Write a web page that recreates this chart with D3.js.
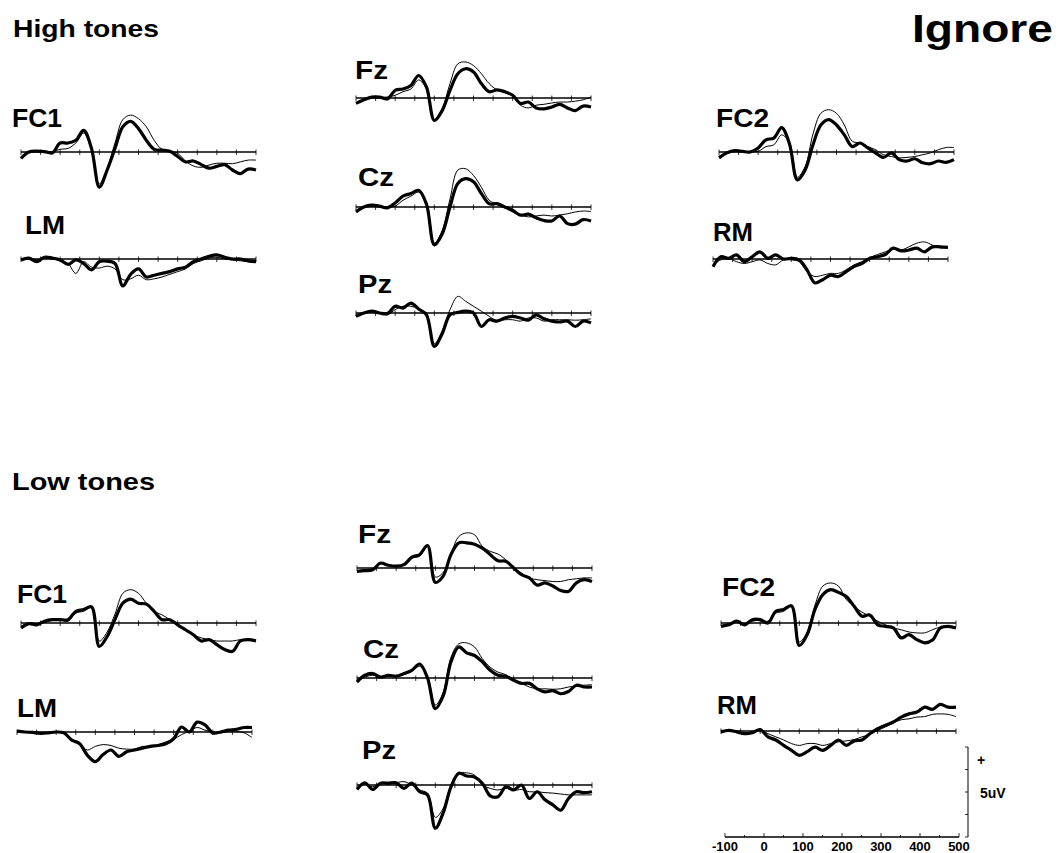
<!DOCTYPE html>
<meta charset="utf-8">
<style>
body { margin: 0; background: #fff; }
text { font-family: "Liberation Sans", Arial, sans-serif; font-weight: bold; fill: #000; }
</style>
<body>
<svg width="1058" height="853"></svg>
<script src="https://d3js.org/d3.v7.min.js"></script>
<script>
// sample times (ms) and tick marks
var times = d3.range(-100, 501, 20);
var tickTimes = d3.range(-100, 501, 50);
var scaleLabels = [-100, 0, 100, 200, 300, 400, 500];

// ERP amplitudes in uV, one value every 20 ms from -100 to 500
// high tones
var highFC1Thick = [-0.7,0,0.1,0.05,-0.1,1.0,1.0,1.3,2.4,0.4,-3.9,-2.0,0.4,2.8,3.4,2.6,1.3,0.3,0.2,0.07,-0.5,-1.1,-1.0,-1.4,-1.8,-1.6,-1.4,-2.0,-2.4,-1.9,-2.0];
var highFC1Thin  = [-0.7,0,0.1,0.05,0.05,0.3,0.4,1.0,2.1,0.3,-3.55,-1.8,1.0,3.6,4.1,3.7,2.8,1.3,0.3,0.15,-0.15,-1.0,-1.55,-1.7,-1.45,-1.25,-1.25,-1.3,-1.1,-0.9,-0.9];
var highLMThick  = [-0.1,0.1,-0.3,0.2,0.1,-0.1,-0.6,-0.1,-0.5,-1.2,-0.3,-0.25,-0.5,-3.0,-1.7,-1.1,-2.0,-1.8,-1.6,-1.4,-1.1,-0.9,-0.3,0.0,0.3,0.45,0.2,0.0,0.0,-0.2,-0.3];
var highLMThin   = [0,0.05,-0.1,0.1,0,-0.2,-0.5,-1.6,-0.3,-0.9,-1.0,-0.8,-1.1,-2.3,-2.2,-1.8,-2.3,-2.2,-2.0,-1.7,-1.4,-1.1,-0.5,-0.2,0.1,0.2,0.0,-0.1,-0.2,-0.3,-0.4];
var highFzThick  = [-0.6,-0.2,0.1,0.1,-0.1,0.85,1.0,1.4,2.5,1.2,-2.5,-1.4,0.85,2.7,3.25,2.9,1.6,0.7,0.9,0.7,0.3,-0.6,-0.45,-1.1,-1.2,-1.0,-0.7,-1.1,-1.4,-0.9,-1.0];
var highFzThin   = [-0.55,-0.1,0.1,0.1,0.1,0.3,0.7,1.0,2.0,1.0,-2.4,-1.2,1.6,3.8,4.0,3.6,2.7,1.6,0.9,0.7,0.2,-0.8,-1.1,-0.8,-0.7,-0.55,-0.45,-0.45,-0.35,-0.2,0.1];
var highCzThick  = [-0.55,0,0.2,0.1,-0.1,0.45,1.2,1.5,1.85,0.3,-4.2,-3.0,0,2.6,3.15,2.8,1.5,0.37,0.37,0,-0.37,-0.9,-0.8,-1.2,-1.5,-1.55,-1.0,-1.85,-1.9,-1.4,-1.55];
var highCzThin   = [-0.37,0,0.2,0.1,0,0.1,0.75,1.2,1.65,0.5,-4.0,-2.6,0.9,4.1,4.25,3.5,2.2,0.75,0.3,-0.1,-0.55,-0.9,-1.1,-1.0,-0.9,-1.0,-0.9,-0.75,-0.55,-0.45,-0.5];
var highPzThick  = [-0.37,0,0.2,0,-0.07,0.75,0.55,1.1,0.45,-0.2,-3.7,-2.3,-0.2,0.07,0.2,0,-1.5,-0.75,-0.9,-0.55,-0.37,-0.55,-0.8,-0.2,-0.65,-0.9,-1.0,-0.9,-1.5,-0.9,-1.1];
var highPzThin   = [-0.2,0,0.1,0.07,-0.2,0.37,0.75,0.75,0.45,-0.2,-3.4,-2.0,0.37,1.85,1.3,0.75,0.2,-0.37,-0.9,-0.75,-0.75,-0.9,-0.55,-0.55,-0.9,-0.75,-0.75,-0.75,-0.8,-0.75,-0.65];
var highFC2Thick = [-0.65,-0.1,0.15,0.07,0,0.45,1.35,1.55,2.7,0.9,-3.1,-2.0,0.8,3.0,3.6,3.0,1.9,0.6,1.0,0.45,-0.1,-0.6,-0.1,-0.85,-1.0,-0.75,-1.2,-1.3,-1.0,-1.15,-0.85];
var highFC2Thin  = [-0.5,0,0.15,0,0.07,0.07,0.6,0.8,1.9,1.0,-2.8,-1.6,2.0,4.3,4.7,4.3,3.0,1.2,1.0,0.6,0.25,-0.3,-0.5,-0.65,-0.6,-0.5,-0.3,-0.1,0.25,0.5,0.5];
var highRMThick  = [-0.85,0.25,0.07,0.45,-0.3,0.25,0.8,0.07,0.45,0,0.07,-0.1,-1.2,-2.65,-2.3,-1.8,-1.95,-1.4,-0.85,-0.5,0.07,0.25,0.5,1.2,0.9,1.0,1.2,0.8,1.35,1.35,1.3];
var highRMThin   = [-0.65,-0.1,0.07,-0.3,-0.5,-0.3,-0.1,-0.5,-0.65,-0.1,-0.1,-0.3,-1.4,-1.95,-1.8,-1.6,-1.6,-1.2,-0.65,-0.3,0.15,0.5,0.8,1.1,1.0,1.35,1.75,1.9,1.55,1.25,1.3];
// low tones
var lowFC1Thick  = [-0.55,-0.07,-0.2,0.2,0.37,0.37,0.37,1.3,1.5,1.8,-2.6,-1.5,0.4,2.2,2.65,2.2,2.1,1.3,0.37,0.37,-0.2,-0.75,-1.3,-2.0,-1.85,-2.4,-2.95,-3.15,-2.0,-1.85,-2.0];
var lowFC1Thin   = [-0.37,0,-0.07,0.07,0.3,0.37,0.2,1.1,1.3,1.7,-2.0,-1.0,1.0,3.3,3.7,3.3,2.2,1.3,0.9,0.37,-0.2,-0.8,-1.3,-1.65,-1.85,-2.0,-2.0,-2.0,-1.85,-1.85,-1.9];
var lowLMThick   = [0.1,0,-0.05,-0.15,-0.1,0,-0.1,-0.9,-1.3,-2.6,-3.3,-2.5,-2.0,-2.7,-2.2,-2.0,-1.8,-1.6,-1.5,-1.3,-0.75,0.55,0.0,1.1,0.8,-0.1,0.0,0.2,0.3,0.5,0.5];
var lowLMThin    = [0.05,0,-0.05,-0.1,-0.05,0,-0.2,-0.8,-1.4,-2.0,-1.6,-1.4,-1.5,-1.8,-1.9,-1.9,-1.6,-1.6,-1.4,-1.1,-0.8,-0.3,0.1,0.5,0.2,0.0,-0.1,0.1,0.1,-0.1,-0.6];
var lowFzThick   = [-0.37,-0.3,-0.2,0.55,0.3,0.2,0.37,1.2,1.5,2.5,-1.6,-0.9,1.5,2.8,2.8,2.65,2.2,1.5,0.8,0.75,0,-0.75,-1.1,-1.9,-1.65,-2.0,-2.5,-2.6,-1.65,-1.3,-1.5];
var lowFzThin    = [-0.3,-0.2,-0.07,0.45,0.37,0.2,0.37,1.1,1.3,2.4,-1.0,-0.5,1.6,3.5,3.9,3.7,2.4,1.85,1.55,0.9,0,-0.55,-1.1,-1.3,-1.4,-1.5,-1.5,-1.3,-1.2,-1.1,-1.1];
var lowCzThick   = [-0.45,0.3,0.5,0.1,0.3,0.2,0.5,0.85,1.55,0.0,-3.4,-2.0,1.8,3.45,2.8,2.5,1.8,0.85,0.3,0.2,-0.25,-0.6,-0.6,-1.2,-1.55,-1.4,-1.75,-1.5,-0.8,-1.0,-1.0];
var lowCzThin    = [-0.25,0.1,0.3,0.1,0.2,0.2,0.37,0.75,1.3,0.2,-3.0,-1.6,2.3,3.8,3.9,3.45,2.15,1.2,0.65,0.37,-0.25,-0.6,-1.0,-1.2,-1.2,-1.25,-1.2,-1.0,-0.9,-0.8,-0.75];
var lowPzThick   = [-0.5,0.25,-0.5,0.2,0.2,0.25,-0.37,0.2,-0.75,-1.1,-4.8,-3.1,-0.2,1.3,1.0,0.9,0.2,-1.2,-1.3,-0.2,-0.55,0,-1.5,-0.75,-1.65,-2.2,-2.8,-1.5,-0.75,-0.85,-0.75];
var lowPzThin    = [-0.37,0.1,-0.2,0.2,0.1,0.25,0.37,0,-0.55,-0.9,-3.6,-2.6,0.0,1.3,1.35,1.1,0.0,-0.37,-0.55,-0.37,-0.6,-0.5,-0.75,-0.75,-0.85,-0.9,-1.0,-1.1,-1.1,-1.1,-1.1];
var lowFC2Thick  = [-0.37,-0.2,0.2,-0.2,0.37,0.37,0,1.3,1.5,1.9,-2.5,-1.3,1.5,3.15,3.7,3.4,2.95,1.85,0.75,0.9,-0.2,-0.37,-0.55,-1.65,-1.3,-1.85,-2.2,-1.9,-0.55,-0.37,-0.55];
var lowFC2Thin   = [-0.3,-0.07,0.07,-0.07,0.2,0.3,0.2,1.1,1.3,2.0,-2.1,-1.0,2.0,4.1,4.45,4.1,2.6,1.85,1.2,0.75,0.2,-0.2,-0.55,-0.75,-1.0,-1.1,-1.1,-0.75,-0.45,-0.37,-0.45];
var lowRMThick   = [-0.1,0.07,-0.1,-0.3,-0.2,0.15,-0.65,-1.0,-1.6,-2.15,-2.7,-2.3,-1.8,-2.15,-1.6,-1.0,-1.6,-1.1,-1.0,-0.3,0.25,0.65,1.0,1.55,1.9,2.1,2.65,2.4,2.95,2.65,2.65];
var lowRMThin    = [-0.1,0.07,0,-0.2,-0.1,0.15,-0.3,-0.65,-1.0,-1.4,-1.6,-1.4,-1.4,-1.6,-1.4,-1.2,-1.1,-0.95,-0.65,-0.37,0.07,0.45,0.9,1.25,1.35,1.55,1.6,1.85,1.9,1.85,1.6];

var svg = d3.select("svg");

// panel placement: axis left edge, baseline, label position and width
var panels = [
  {name:"FC1", x:21,  y:152, lx:12,  ly:127, lw:50, thick:highFC1Thick, thin:highFC1Thin},
  {name:"LM",  x:21,  y:259, lx:25,  ly:234, lw:40, thick:highLMThick,  thin:highLMThin},
  {name:"Fz",  x:356, y:98,  lx:355, ly:79,  lw:33, thick:highFzThick,  thin:highFzThin},
  {name:"Cz",  x:356, y:207, lx:358, ly:186, lw:36, thick:highCzThick,  thin:highCzThin},
  {name:"Pz",  x:356, y:313, lx:358, ly:293, lw:34, thick:highPzThick,  thin:highPzThin},
  {name:"FC2", x:719, y:152, lx:716, ly:127, lw:53, thick:highFC2Thick, thin:highFC2Thin},
  {name:"RM",  x:713, y:259, lx:713, ly:241, lw:40, thick:highRMThick,  thin:highRMThin},
  {name:"FC1", x:21,  y:623, lx:17,  ly:603, lw:50, thick:lowFC1Thick,  thin:lowFC1Thin},
  {name:"LM",  x:17,  y:732, lx:17,  ly:717, lw:40, thick:lowLMThick,   thin:lowLMThin},
  {name:"Fz",  x:357, y:568, lx:358, ly:543, lw:33, thick:lowFzThick,   thin:lowFzThin},
  {name:"Cz",  x:357, y:678, lx:363, ly:658, lw:36, thick:lowCzThick,   thin:lowCzThin},
  {name:"Pz",  x:357, y:785, lx:362, ly:759, lw:34, thick:lowPzThick,   thin:lowPzThin},
  {name:"FC2", x:721, y:623, lx:722, ly:596, lw:53, thick:lowFC2Thick,  thin:lowFC2Thin},
  {name:"RM",  x:721, y:731, lx:717, ly:714, lw:40, thick:lowRMThick,   thin:lowRMThin}
];

var W = 235, H = 45; // 600 ms wide, +-5 uV tall

panels.forEach(function(p) {
  var x = d3.scaleLinear().domain([-100, 500]).range([p.x, p.x + W]);
  var y = d3.scaleLinear().domain([-5, 5]).range([p.y + H, p.y - H]);
  var g = svg.append("g");

  g.append("line")
      .attr("x1", x(-100)).attr("x2", x(500))
      .attr("y1", y(0)).attr("y2", y(0))
      .attr("stroke", "#000").attr("stroke-width", 1.5);

  g.selectAll(".tick").data(tickTimes).enter().append("line")
      .attr("x1", function(d) { return x(d); }).attr("x2", function(d) { return x(d); })
      .attr("y1", y(0) - 2.5).attr("y2", y(0) + 3)
      .attr("stroke", "#000").attr("stroke-width", 0.8);

  var line = d3.line()
      .x(function(d, i) { return x(times[i]); })
      .y(function(d) { return y(d); })
      .curve(d3.curveCatmullRom.alpha(0.5));

  g.append("path").datum(p.thin)
      .attr("d", line).attr("fill", "none")
      .attr("stroke", "#000").attr("stroke-width", 1);
  g.append("path").datum(p.thick)
      .attr("d", line).attr("fill", "none")
      .attr("stroke", "#000").attr("stroke-width", 3.2)
      .attr("stroke-linejoin", "round");

  g.append("text")
      .attr("x", p.lx).attr("y", p.ly)
      .attr("font-size", 26)
      .attr("textLength", p.lw).attr("lengthAdjust", "spacingAndGlyphs")
      .text(p.name);
});

// titles
svg.append("text").attr("x", 13).attr("y", 37).attr("font-size", 24)
    .attr("textLength", 146).attr("lengthAdjust", "spacingAndGlyphs").text("High tones");
svg.append("text").attr("x", 12).attr("y", 490).attr("font-size", 24)
    .attr("textLength", 143).attr("lengthAdjust", "spacingAndGlyphs").text("Low tones");
svg.append("text").attr("x", 912).attr("y", 42).attr("font-size", 38)
    .attr("textLength", 141).attr("lengthAdjust", "spacingAndGlyphs").text("Ignore");

// calibration bar
var sx = d3.scaleLinear().domain([-100, 500]).range([725, 959]);
var sy = d3.scaleLinear().domain([-5, 5]).range([837, 747]);
var cal = svg.append("g");

cal.append("line").attr("x1", sx(-100)).attr("x2", sx(500))
    .attr("y1", sy(-5)).attr("y2", sy(-5))
    .attr("stroke", "#000").attr("stroke-width", 1.5);
cal.selectAll(".xt").data(tickTimes).enter().append("line")
    .attr("x1", function(d) { return sx(d); }).attr("x2", function(d) { return sx(d); })
    .attr("y1", sy(-5)).attr("y2", function(d) { return sy(-5) - (d % 100 === 0 ? 4 : 2); })
    .attr("stroke", "#000").attr("stroke-width", 0.8);
cal.selectAll(".xl").data(scaleLabels).enter().append("text")
    .attr("x", function(d) { return sx(d); }).attr("y", 851)
    .attr("text-anchor", "middle").attr("font-size", 13)
    .text(function(d) { return d; });

cal.append("line").attr("x1", 968).attr("x2", 968)
    .attr("y1", sy(-5)).attr("y2", sy(5))
    .attr("stroke", "#000").attr("stroke-width", 1);
cal.selectAll(".yt").data([-5, -2.5, 0, 2.5, 5]).enter().append("line")
    .attr("x1", 965).attr("x2", 968)
    .attr("y1", function(d) { return sy(d); }).attr("y2", function(d) { return sy(d); })
    .attr("stroke", "#000").attr("stroke-width", 0.8);
cal.append("text").attr("x", 977).attr("y", 765).attr("font-size", 14).text("+");
cal.append("text").attr("x", 980).attr("y", 798).attr("font-size", 14).text("5uV");
</script>
</body>
